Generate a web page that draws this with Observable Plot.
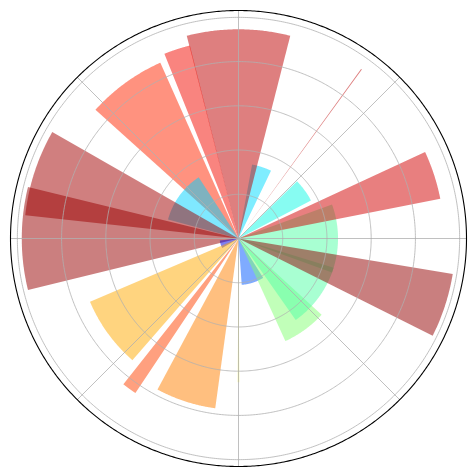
<!DOCTYPE html>
<html>
<head>
<meta charset="utf-8">
<script src="https://cdn.jsdelivr.net/npm/d3@7"></script>
<script src="https://cdn.jsdelivr.net/npm/@observablehq/plot@0.6"></script>
<style>
  html, body { margin: 0; padding: 0; background: #fff; }
</style>
</head>
<body>
<div id="chart"></div>
<script>
// Bar angles (degrees, counter-clockwise from east), radii and angular widths (radians)
const thetaDeg = [0, 18, 36, 54, 72, 90, 108, 126, 144, 162, 180, 198, 216, 234, 252, 270, 288, 306, 324, 342];
const radii    = [4.5, 9.3, 3.7, 9.46, 3.4, 9.46, 9.0, 8.7, 3.3, 9.7, 9.8, 0.85, 7.3, 8.4, 7.75, 6.5, 2.1, 5.1, 4.5, 9.82];
const widths   = [0.70, 0.24, 0.29, 0.005, 0.265, 0.50, 0.135, 0.42, 0.73, 0.41, 0.48, 0.42, 0.45, 0.08, 0.356, 0.01, 0.49, 0.40, 0.66, 0.30];

// Grid
const rTicks = [2, 4, 6, 8, 10];
const thetaTicks = [0, 45, 90, 135, 180, 225, 270, 315];
const rMax = 10.31;

// jet colormap (matplotlib segment data)
const jetRed   = [[0, 0], [0.35, 0], [0.66, 1], [0.89, 1], [1, 0.5]];
const jetGreen = [[0, 0], [0.125, 0], [0.375, 1], [0.64, 1], [0.91, 0], [1, 0]];
const jetBlue  = [[0, 0.5], [0.11, 1], [0.34, 1], [0.65, 0], [1, 0]];
function seg(pts, t) {
  for (let j = 1; j < pts.length; j++) {
    if (t <= pts[j][0]) {
      const [x0, y0] = pts[j - 1], [x1, y1] = pts[j];
      return y0 + (y1 - y0) * (t - x0) / (x1 - x0);
    }
  }
  return pts[pts.length - 1][1];
}
function jet(t) {
  t = Math.max(0, Math.min(1, t));
  return d3.rgb(255 * seg(jetRed, t), 255 * seg(jetGreen, t), 255 * seg(jetBlue, t)).formatHex();
}

// Build wedge outlines in data space (polar -> cartesian)
const wedges = [];
thetaDeg.forEach((td, i) => {
  const c = td * Math.PI / 180, w = widths[i], r = radii[i];
  const color = jet(r / 10);
  wedges.push({i, x: 0, y: 0, fill: color});
  const n = 80;
  for (let j = 0; j <= n; j++) {
    const a = c - w / 2 + w * j / n;
    wedges.push({i, x: r * Math.cos(a), y: r * Math.sin(a), fill: color});
  }
  wedges.push({i, x: 0, y: 0, fill: color});
});

function circle(r, key) {
  const pts = [];
  for (let j = 0; j <= 720; j++) {
    const a = 2 * Math.PI * j / 720;
    pts.push({k: key, x: r * Math.cos(a), y: r * Math.sin(a)});
  }
  return pts;
}
const rings = rTicks.flatMap(r => circle(r, r));
const outer = circle(rMax, "outer");
const spokes = thetaTicks.flatMap(t => {
  const a = t * Math.PI / 180;
  return [{k: t, x: 0, y: 0}, {k: t, x: rMax * Math.cos(a), y: rMax * Math.sin(a)}];
});

const chart = Plot.plot({
  width: 476,
  height: 476,
  marginTop: 10, marginBottom: 10, marginLeft: 10, marginRight: 10,
  x: {domain: [-rMax, rMax], axis: null},
  y: {domain: [-rMax, rMax], axis: null},
  color: {type: "identity"},
  style: {background: "#fff"},
  marks: [
    Plot.line(wedges, {x: "x", y: "y", z: "i", fill: "fill", fillOpacity: 0.5, stroke: null, curve: "linear"}),
    Plot.line(rings, {x: "x", y: "y", z: "k", stroke: "#b0b0b0", strokeWidth: 0.8}),
    Plot.line(spokes, {x: "x", y: "y", z: "k", stroke: "#b0b0b0", strokeWidth: 0.8}),
    Plot.line(outer, {x: "x", y: "y", z: "k", stroke: "#000", strokeWidth: 1.1})
  ]
});
document.getElementById("chart").appendChild(chart);
</script>
</body>
</html>
